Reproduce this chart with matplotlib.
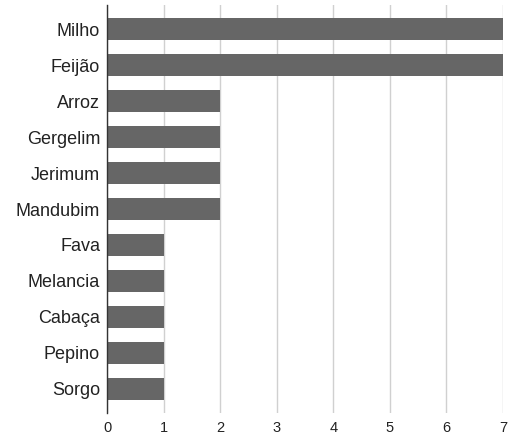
import matplotlib.pyplot as plt

crops = ['Milho', 'Feijão', 'Arroz', 'Gergelim', 'Jerimum', 'Mandubim',
         'Fava', 'Melancia', 'Cabaça', 'Pepino', 'Sorgo']
counts = [7, 7, 2, 2, 2, 2, 1, 1, 1, 1, 1]

plt.rcParams['font.family'] = ['Liberation Sans', 'DejaVu Sans']

fig = plt.figure(figsize=(5.15, 4.4), dpi=100)
ax = fig.add_axes([107 / 515, 27 / 440, 396 / 515, 408 / 440])

pos = list(range(len(crops)))[::-1]
ax.barh(pos, counts, height=0.61, color='#666666', zorder=2)

ax.set_xlim(0, 7)
ax.set_ylim(-0.67, len(crops) - 1 + 0.67)
ax.set_yticks(pos)
ax.set_yticklabels(crops, fontsize=13, color='#222222')
ax.set_xticks(range(8))
ax.tick_params(axis='x', labelsize=10.5, length=0, pad=6, colors='#222222')
ax.tick_params(axis='y', length=0, pad=5)

ax.grid(axis='x', color='#d0d0d0', linewidth=1, zorder=0)
for side in ['top', 'right', 'bottom']:
    ax.spines[side].set_visible(False)
ax.spines['left'].set_color('#333333')
ax.spines['left'].set_linewidth(1)
ax.spines['left'].set_zorder(3)

fig.savefig('out.png', dpi=100)
